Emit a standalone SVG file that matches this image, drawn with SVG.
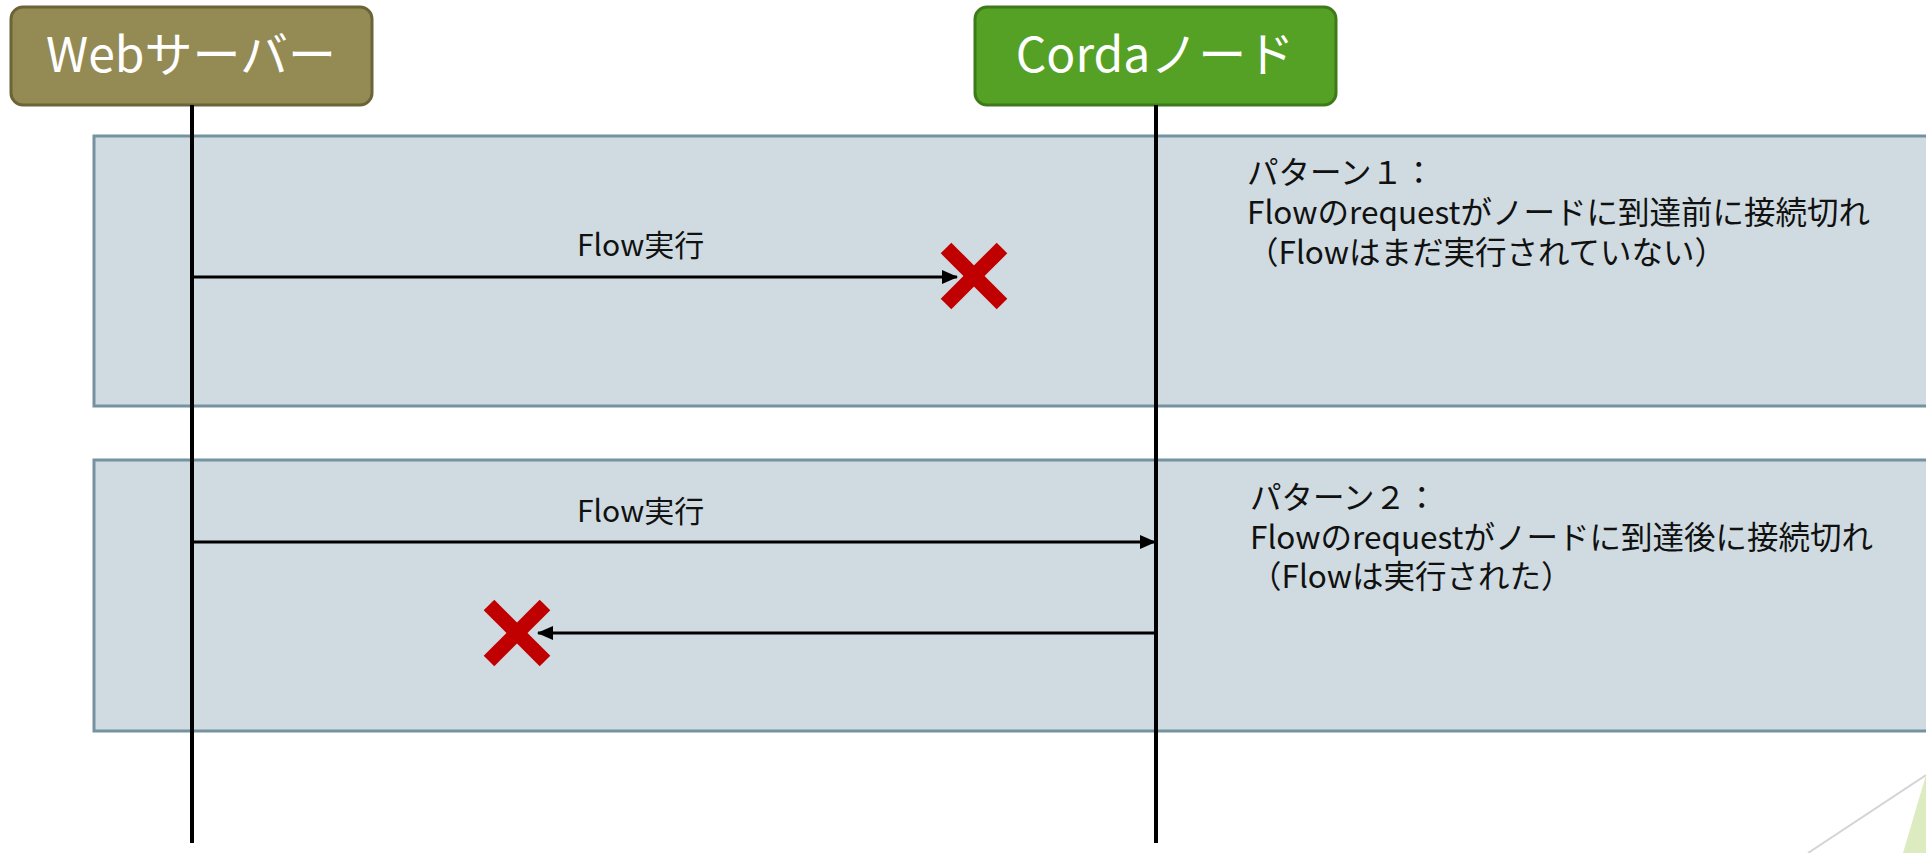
<svg xmlns="http://www.w3.org/2000/svg" width="1926" height="853" viewBox="0 0 1926 853">
<defs>
<style>
.panel{fill:#cfdbe0;stroke:#7592a0;stroke-width:3}
.life{stroke:#000;stroke-width:4;fill:none}
.msg{stroke:#000;stroke-width:3;fill:none}
.hdr{font-family:"Noto Sans CJK JP","Noto Sans",sans-serif;font-size:48px;fill:#fff;text-anchor:middle}
.lbl{font-family:"Noto Sans CJK JP","Noto Sans",sans-serif;font-size:30px;fill:#111}
.note{font-family:"Noto Sans CJK JP","Noto Sans",sans-serif;font-size:31.5px;fill:#111}
.x{stroke:#c00000;stroke-width:15;stroke-linecap:butt}
</style>
<marker id="ah" markerWidth="16" markerHeight="14" refX="15" refY="7" orient="auto" markerUnits="userSpaceOnUse">
<path d="M0,0 L16,7 L0,14 Z" fill="#000"/>
</marker>
</defs>
<rect width="1926" height="853" fill="#fff"/>
<g id="deco">
<line x1="1808" y1="853" x2="1926" y2="775" stroke="#d4d4d4" stroke-width="2"/>
<polygon points="1926,775 1903,853 1926,853" fill="#dcebc0"/>
</g>
<g id="pattern1">
<rect class="panel" x="94" y="136" width="1850" height="270"/>
<text class="note" x="1247" y="184">パターン１：<tspan x="1247" dy="40">Flowのrequestがノードに到達前に接続切れ</tspan><tspan x="1247" dy="40">（Flowはまだ実行されていない）</tspan></text>
</g>
<g id="pattern2">
<rect class="panel" x="94" y="460" width="1850" height="271"/>
<text class="note" x="1250" y="509">パターン２：<tspan x="1250" dy="40">Flowのrequestがノードに到達後に接続切れ</tspan><tspan x="1250" dy="39">（Flowは実行された）</tspan></text>
</g>
<g id="web-server">
<rect x="11" y="7" width="361" height="98" rx="12" fill="#948a54" stroke="#6b6436" stroke-width="3"/>
<text class="hdr" x="191" y="72">Webサーバー</text>
</g>
<g id="corda-node">
<rect x="975" y="7" width="361" height="98" rx="12" fill="#55a125" stroke="#3f7a1a" stroke-width="3"/>
<text class="hdr" x="1155" y="72">Cordaノード</text>
</g>
<g id="lifelines">
<line class="life" x1="192" y1="105" x2="192" y2="843"/>
<line class="life" x1="1156" y1="105" x2="1156" y2="843"/>
</g>
<g id="connectors">
<line class="msg" x1="192" y1="277" x2="957" y2="277" marker-end="url(#ah)"/>
<text class="lbl" x="577" y="256">Flow実行</text>
<line class="msg" x1="192" y1="542" x2="1155" y2="542" marker-end="url(#ah)"/>
<text class="lbl" x="577" y="522">Flow実行</text>
<line class="msg" x1="1156" y1="633" x2="538" y2="633" marker-end="url(#ah)"/>
</g>
<g id="x-marks">
<line class="x" x1="946" y1="248" x2="1002" y2="304"/>
<line class="x" x1="1002" y1="248" x2="946" y2="304"/>
<line class="x" x1="489" y1="605" x2="545" y2="661"/>
<line class="x" x1="545" y1="605" x2="489" y2="661"/>
</g>
</svg>
